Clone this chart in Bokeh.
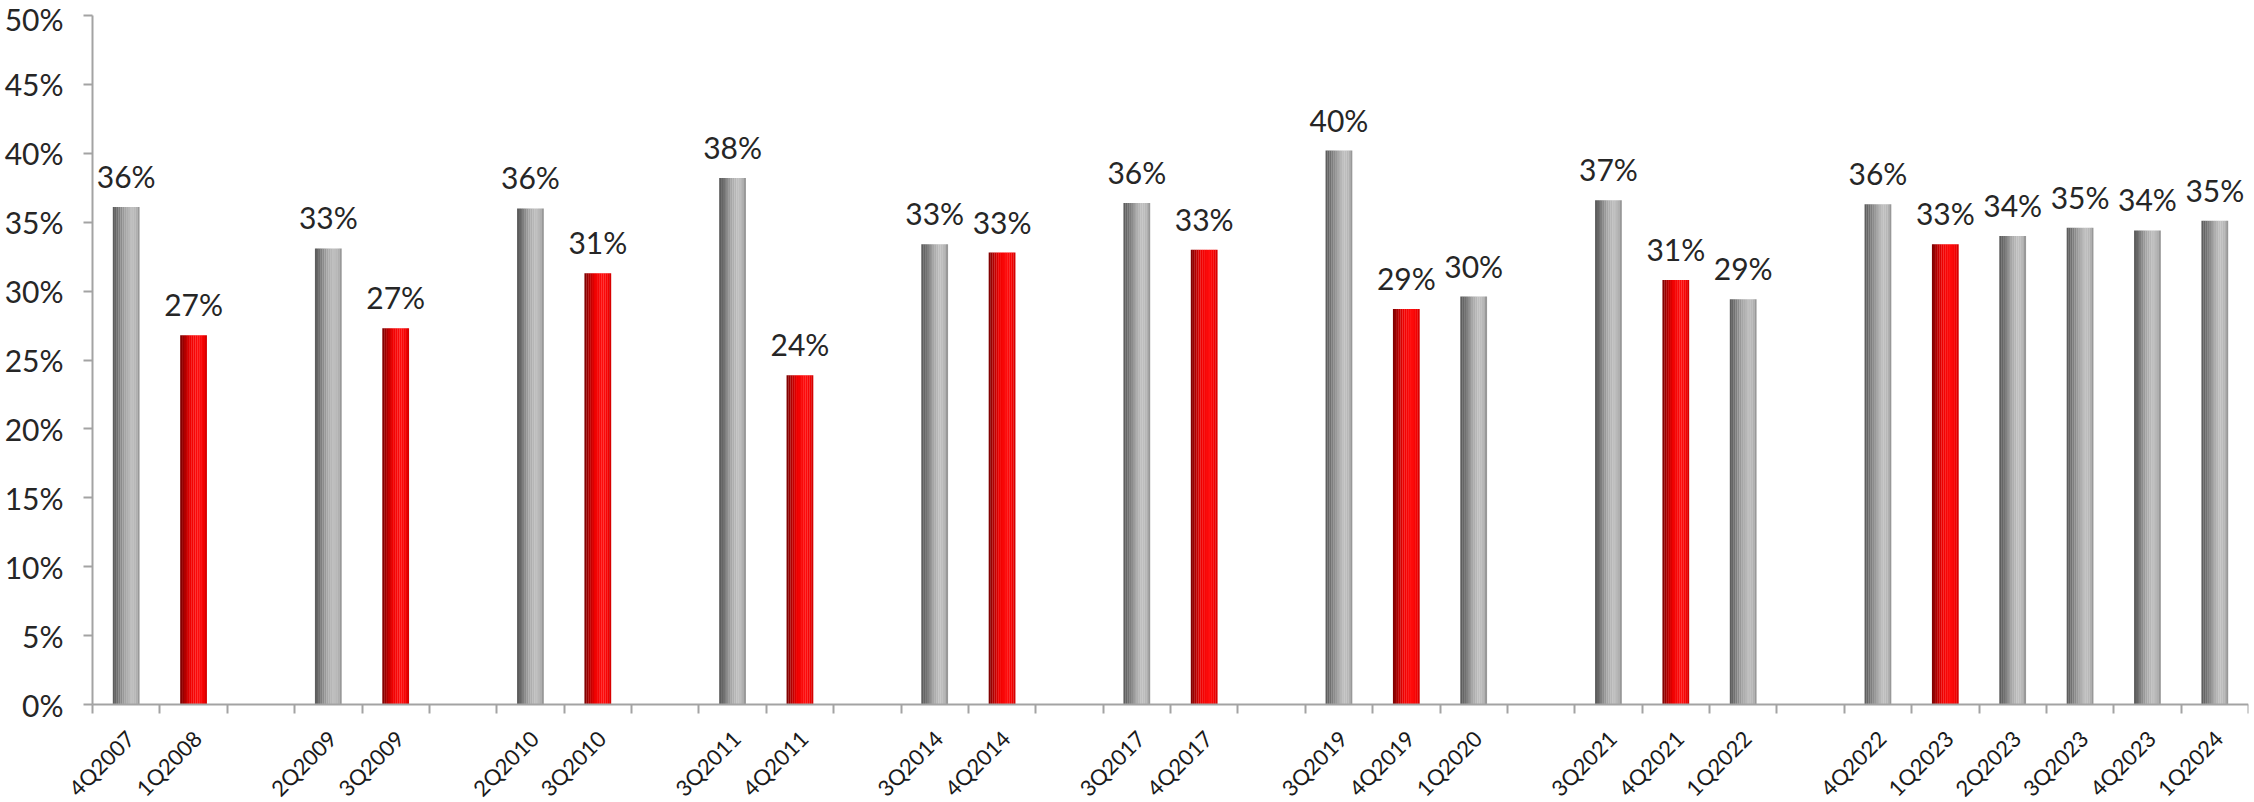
import numpy as np
from bokeh.plotting import figure
from bokeh.models import ColumnDataSource, Range1d, FixedTicker, PrintfTickFormatter, LabelSet
from bokeh.transform import dodge
from bokeh.core.properties import value
from bokeh.embed import file_html
from bokeh.resources import INLINE

# ---- data (blank entries are empty gap slots on the category axis) ----
quarters = ["4Q2007", "1Q2008", "",
            "2Q2009", "3Q2009", "",
            "2Q2010", "3Q2010", "",
            "3Q2011", "4Q2011", "",
            "3Q2014", "4Q2014", "",
            "3Q2017", "4Q2017", "",
            "3Q2019", "4Q2019", "1Q2020", "",
            "3Q2021", "4Q2021", "1Q2022", "",
            "4Q2022", "1Q2023", "2Q2023", "3Q2023", "4Q2023", "1Q2024"]
ratio = [36.1, 26.8, None,
         33.1, 27.3, None,
         36.0, 31.3, None,
         38.2, 23.9, None,
         33.4, 32.8, None,
         36.4, 33.0, None,
         40.2, 28.7, 29.6, None,
         36.6, 30.8, 29.4, None,
         36.3, 33.4, 34.0, 34.6, 34.4, 35.1]
highlight = [0, 1, 0,
             0, 1, 0,
             0, 1, 0,
             0, 1, 0,
             0, 1, 0,
             0, 1, 0,
             0, 1, 0, 0,
             0, 1, 0, 0,
             0, 1, 0, 0, 0, 0]
y_ticks = [0, 5, 10, 15, 20, 25, 30, 35, 40, 45, 50]

FONT = "Lato"
n = len(quarters)
centers = [i + 0.5 for i in range(n)]


def make_source(flag):
    xs, vs, labs = [], [], []
    for i in range(n):
        if ratio[i] is None or highlight[i] != flag:
            continue
        xs.append(centers[i])
        vs.append(ratio[i])
        labs.append(f"{round(ratio[i])}%")
    return ColumnDataSource(dict(x=xs, v=vs, label=labs))


src_gray = make_source(0)
src_red = make_source(1)
named = [i for i in range(n) if quarters[i]]
cat_src = ColumnDataSource(dict(x=[centers[i] for i in named],
                                y=[0] * len(named),
                                q=[quarters[i] for i in named]))


def hexc(c):
    return tuple(int(c[k:k + 2], 16) for k in (1, 3, 5))


def gradient(stops, m):
    out = []
    for k in range(m):
        t = (k + 0.5) / m
        for (t0, c0), (t1, c1) in zip(stops[:-1], stops[1:]):
            if t0 <= t <= t1:
                a = (t - t0) / (t1 - t0)
                r0, g0, b0 = hexc(c0)
                r1, g1, b1 = hexc(c1)
                out.append("#%02x%02x%02x" % (round(r0 + (r1 - r0) * a),
                                              round(g0 + (g1 - g0) * a),
                                              round(b0 + (b1 - b0) * a)))
                break
    return out


STRIPS = 14
gray_cols = gradient([(0, "#585858"), (0.15, "#6c6c6c"), (0.45, "#a4a4a4"),
                      (0.7, "#c0c0c0"), (0.88, "#b4b4b4"), (1, "#8c8c8c")], STRIPS)
red_cols = gradient([(0, "#780000"), (0.15, "#a80000"), (0.4, "#f00000"),
                     (0.7, "#ff0d0d"), (0.9, "#f20000"), (1, "#c80000")], STRIPS)

# The frame covers the whole canvas (except a thin right margin) so the
# rotated quarter labels and the top axis label are not clipped; both axes
# are pinned at zero with fixed_location and limited with bounds.
W, H = 2254, 802
RIGHT = 6
ZERO_X, ZERO_Y, TOP_Y = 92, 704, 15          # pixel positions of x=0, y=0, y=50
scale_y = (ZERO_Y - TOP_Y) / 50.0
Y_BOTTOM = -(H - ZERO_Y) / scale_y
Y_TOP = 50 + TOP_Y / scale_y
X_LEFT = -n * ZERO_X / (W - RIGHT - ZERO_X)

p = figure(width=W, height=H, output_backend="svg", toolbar_location=None,
           x_range=Range1d(X_LEFT, n), y_range=Range1d(Y_BOTTOM, Y_TOP),
           min_border_left=0, min_border_right=RIGHT, min_border_top=0, min_border_bottom=0)
p.outline_line_color = None
p.grid.visible = False
p.background_fill_color = "white"
p.border_fill_color = "white"

BAR_W = 0.395
sw = BAR_W / STRIPS
for src, cols in ((src_gray, gray_cols), (src_red, red_cols)):
    for k, c in enumerate(cols):
        off = -BAR_W / 2 + (k + 0.5) * sw
        p.vbar(x=dodge("x", off), top="v", bottom=0, width=sw * 1.08, source=src,
               fill_color=c, line_color=None)

for src in (src_gray, src_red):
    p.add_layout(LabelSet(x="x", y="v", text="label", source=src, text_align="center",
                          text_baseline="alphabetic", y_offset=19,
                          text_font=value(FONT), text_font_size="30px", text_color="#262626"))

# category labels under the axis, rotated 45 degrees
p.add_layout(LabelSet(x="x", y="y", text="q", source=cat_src, text_align="right",
                      text_baseline="middle", angle=np.pi / 4, x_offset=4, y_offset=-30,
                      text_font=value(FONT), text_font_size="22px", text_color="#1a1a1a"))

AX = "#a3a3a3"
# x axis at y = 0: tick marks at slot boundaries
xa = p.xaxis[0]
xa.fixed_location = 0
xa.bounds = (0, n)
xa.ticker = FixedTicker(ticks=[], minor_ticks=list(range(n + 1)))
xa.major_tick_out = 0
xa.major_tick_in = 0
xa.minor_tick_out = 9
xa.minor_tick_in = 0
xa.minor_tick_line_color = AX
xa.minor_tick_line_width = 2
xa.axis_line_color = AX
xa.axis_line_width = 2

ya = p.yaxis[0]
ya.fixed_location = 0
ya.bounds = (0, 50)
ya.ticker = FixedTicker(ticks=y_ticks)
ya.formatter = PrintfTickFormatter(format="%d%%")
ya.major_tick_out = 9
ya.major_tick_in = 0
ya.minor_tick_out = 0
ya.minor_tick_in = 0
ya.major_tick_line_color = AX
ya.major_tick_line_width = 2
ya.axis_line_color = AX
ya.axis_line_width = 2
ya.major_label_text_font = FONT
ya.major_label_text_font_size = "30px"
ya.major_label_text_color = "#262626"
ya.major_label_standoff = 20

open("out.html", "w").write(file_html(p, INLINE))
